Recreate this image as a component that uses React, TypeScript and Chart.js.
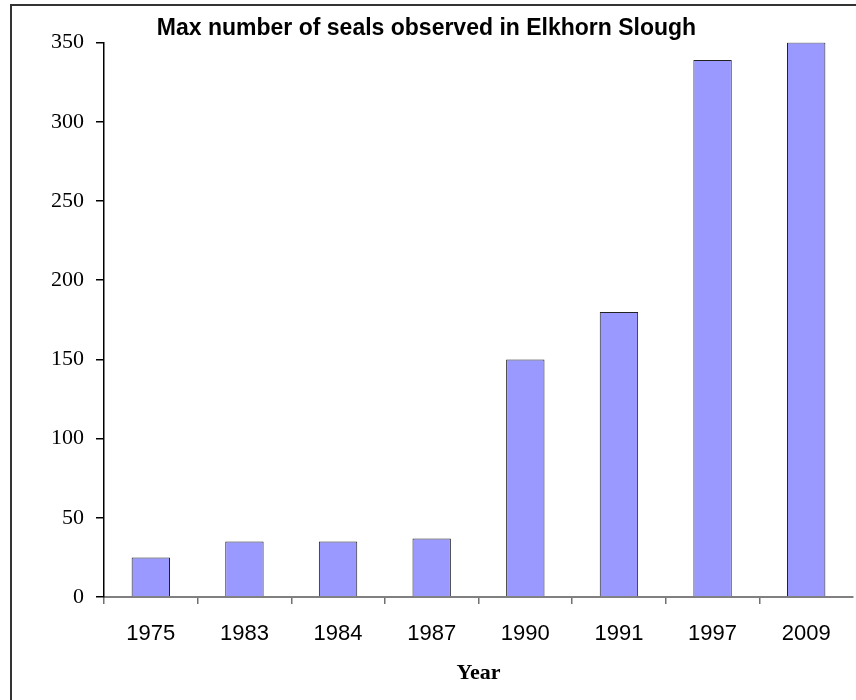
import React, { useEffect, useRef } from "react";
import { Chart, registerables } from "chart.js";

Chart.register(...registerables);

const years: string[] = ["1975", "1983", "1984", "1987", "1990", "1991", "1997", "2009"];
const seals: number[] = [25, 35, 35, 37, 150, 180, 339, 350];
const yMin = 0;
const yMax = 350;
const yStep = 50;
const chartTitle = "Max number of seals observed in Elkhorn Slough";
const xTitle = "Year";

const framePlugin = {
  id: "frame",
  beforeDraw(chart: any) {
    const ctx = chart.ctx;
    ctx.save();
    ctx.fillStyle = "#ffffff";
    ctx.fillRect(0, 0, chart.width, chart.height);
    ctx.strokeStyle = "#333333";
    ctx.lineWidth = 2;
    ctx.strokeRect(11, 5, 1000, 1000);
    ctx.restore();
  },
};

export default function App() {
  const ref = useRef<HTMLCanvasElement | null>(null);

  useEffect(() => {
    if (!ref.current) return;
    const chart = new Chart(ref.current, {
      type: "bar",
      data: {
        labels: years,
        datasets: [
          {
            data: seals,
            backgroundColor: "#9999FF",
            borderColor: "#222222",
            borderWidth: 1,
            barPercentage: 0.41,
            categoryPercentage: 1,
          },
        ],
      },
      options: {
        responsive: false,
        animation: false,
        devicePixelRatio: 1,
        layout: { padding: { left: 0, right: 3, top: 0, bottom: 0 } },
        plugins: {
          legend: { display: false },
          tooltip: { enabled: false },
          title: {
            display: true,
            text: chartTitle,
            color: "#000000",
            font: { family: "'Liberation Sans', Arial, sans-serif", size: 23, weight: "bold" },
            padding: { top: 15, bottom: 0 },
          },
        },
        scales: {
          x: {
            afterFit: (scale: any) => {
              scale.height = 103;
            },
            border: { display: true, color: "#808080", width: 2 },
            grid: {
              display: true,
              drawOnChartArea: false,
              drawTicks: true,
              tickLength: 7,
              offset: true,
              color: (ctx: any) => (ctx.type === "tick" ? "#707070" : "rgba(0,0,0,0)"),
              lineWidth: 1.5,
            },
            ticks: {
              color: "#000000",
              padding: 17,
              maxRotation: 0,
              font: { family: "'Liberation Sans', Arial, sans-serif", size: 22 },
            },
            title: {
              display: true,
              text: xTitle,
              color: "#000000",
              font: { family: "'Liberation Serif', 'Times New Roman', serif", size: 22, weight: "bold" },
              padding: { top: 0, bottom: 13 },
            },
          },
          y: {
            min: yMin,
            max: yMax,
            afterFit: (scale: any) => {
              scale.width = 104;
            },
            border: { display: true, color: "#000000", width: 1.5 },
            grid: {
              display: true,
              drawOnChartArea: false,
              drawTicks: true,
              tickLength: 8,
              color: "#000000",
              lineWidth: 1.5,
            },
            ticks: {
              stepSize: yStep,
              color: "#000000",
              padding: 12,
              font: { family: "'Liberation Serif', 'Times New Roman', serif", size: 22 },
            },
          },
        },
      },
      plugins: [framePlugin],
    });
    return () => chart.destroy();
  }, []);

  return (
    <div style={{ position: "absolute", left: 0, top: 0, width: 856, height: 700 }}>
      <canvas ref={ref} width={856} height={700} style={{ width: 856, height: 700 }} />
    </div>
  );
}
